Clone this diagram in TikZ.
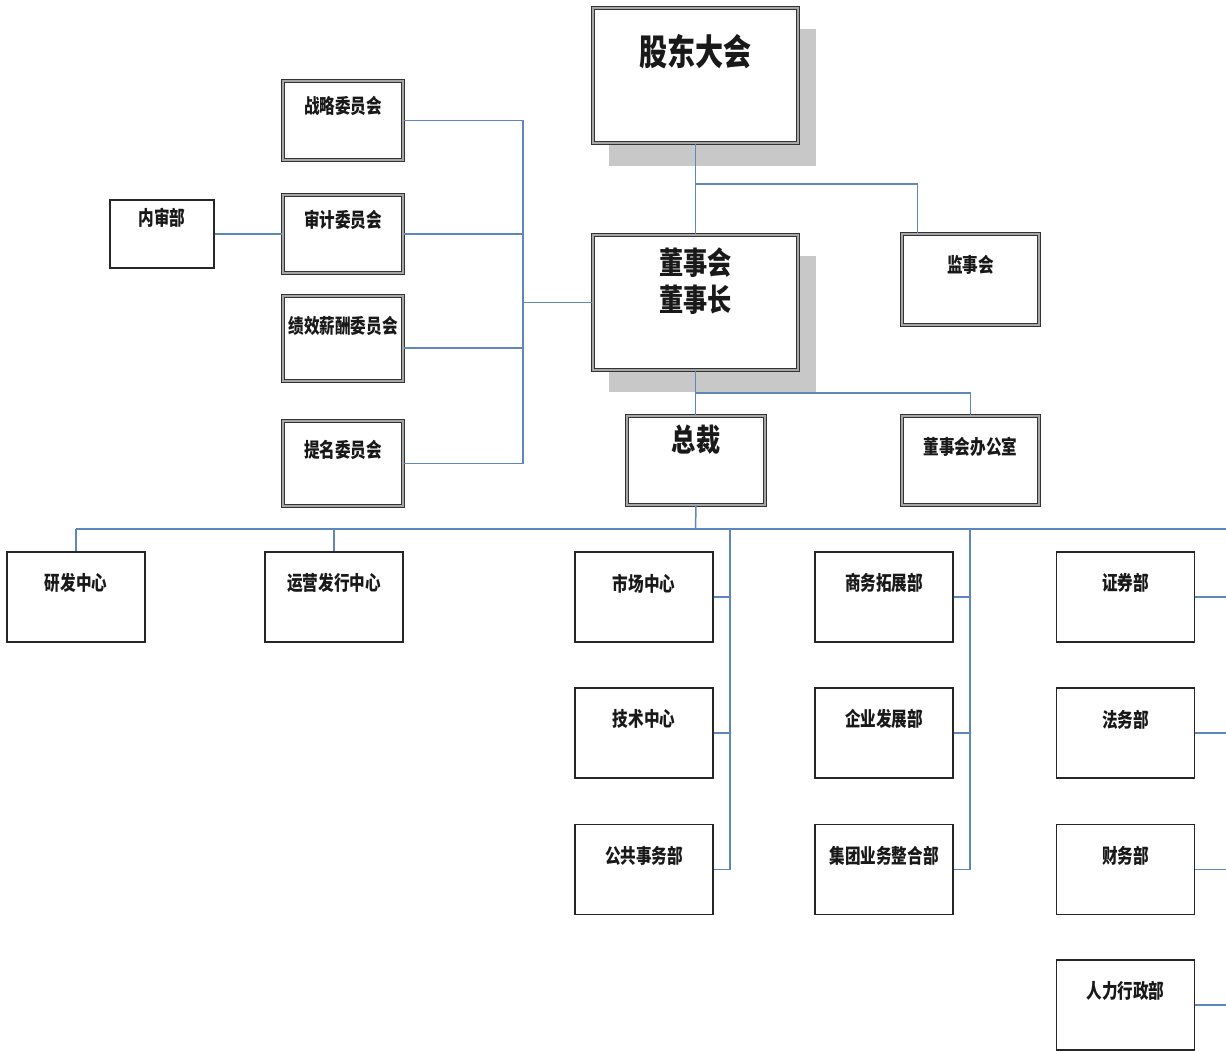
\documentclass[tikz,border=0pt]{standalone}
\usepackage{fontspec}
\newfontfamily\cjk[FakeStretch=0.78]{Noto Sans CJK SC}
\usetikzlibrary{calc}
\definecolor{conncol}{RGB}{95,135,190}
\definecolor{shadowcol}{RGB}{200,200,200}
\begin{document}
\begin{tikzpicture}[x=0.5pt,y=-0.5pt,
  dbox/.style={draw=black!80, line width=0.55pt, double=black!35, double distance=1.1pt, fill=white, inner sep=0pt},
  sbox/.style={draw=black!85, line width=0.7pt, fill=white, inner sep=0pt},
  shadow/.style={fill=shadowcol, draw=none},
  conn/.style={draw=conncol, line width=0.75pt},
  lbl/.style={font=\cjk\bfseries\fontsize{10}{12}\selectfont, inner sep=0pt, text=black!90},
  mlbl/.style={font=\cjk\bfseries\fontsize{15.5}{18.5}\selectfont, inner sep=0pt, align=center, text=black!90},
  blbl/.style={font=\cjk\bfseries\fontsize{18}{20}\selectfont, inner sep=0pt, text=black!90},
  bot/.style={sbox, minimum width=69pt, minimum height=45pt},
  com/.style={dbox, minimum width=60pt}
]
\useasboundingbox (0,0) rectangle (1226,1050);
\clip (0,0) rectangle (1226,1050);

% shadows
\fill[shadow] (609,29) rectangle (816,166);
\fill[shadow] (609,256) rectangle (816,392);

% top boxes
\node[dbox, minimum width=102.5pt, minimum height=67.5pt] (gd) at (695.5,75.5) {};
\node[blbl] at ($(gd.north)+(0,44)$) {股东大会};
\node[dbox, minimum width=102.5pt, minimum height=67.5pt] (dsh) at (695.5,302.5) {};
\node[mlbl] at ($(dsh.north)+(0,47)$) {董事会\\董事长};
\node[dbox, minimum width=69pt, minimum height=44.5pt] (zc) at (696,460.5) {};
\node[mlbl] at ($(zc.north)+(0,24)$) {总裁};
\node[dbox, minimum width=68.5pt, minimum height=44.5pt] (bgs) at (970.5,460.5) {};
\node[lbl] at ($(bgs.north)+(0,31)$) {董事会办公室};
\node[dbox, minimum width=68.5pt, minimum height=45.5pt] (jsh) at (970.5,279.5) {};
\node[lbl] at ($(jsh.north)+(0,31)$) {监事会};

% committees
\node[com, minimum height=39.5pt] (zl) at (343,120.5) {};
\node[lbl] at ($(zl.north)+(0,25)$) {战略委员会};
\node[com, minimum height=39pt] (sj) at (343,234) {};
\node[lbl] at ($(sj.north)+(0,25)$) {审计委员会};
\node[com, minimum height=42.5pt] (jx) at (343,338.5) {};
\node[lbl] at ($(jx.north)+(0,30)$) {绩效薪酬委员会};
\node[com, minimum height=42.5pt] (tm) at (343,463.5) {};
\node[lbl] at ($(tm.north)+(0,29)$) {提名委员会};
\node[sbox, minimum width=52pt, minimum height=34pt] (nsb) at (162,234) {};
\node[lbl] at ($(nsb.north)+(0,18)$) {内审部};

% bottom departments
\node[bot] (yf) at (76,597) {};
\node[lbl] at ($(yf.north)+(0,32)$) {研发中心};
\node[bot] (yy) at (334,597) {};
\node[lbl] at ($(yy.north)+(0,32)$) {运营发行中心};

\node[bot] (sc) at (644,597) {};
\node[lbl] at ($(sc.north)+(0,32)$) {市场中心};
\node[bot] (js) at (644,733) {};
\node[lbl] at ($(js.north)+(0,32)$) {技术中心};
\node[bot] (gg) at (644,869.5) {};
\node[lbl] at ($(gg.north)+(0,32)$) {公共事务部};

\node[bot] (sw) at (884,597) {};
\node[lbl] at ($(sw.north)+(0,32)$) {商务拓展部};
\node[bot] (qy) at (884,733) {};
\node[lbl] at ($(qy.north)+(0,32)$) {企业发展部};
\node[bot] (jt) at (884,869.5) {};
\node[lbl] at ($(jt.north)+(0,32)$) {集团业务整合部};

\node[bot] (zq) at (1125.5,597) {};
\node[lbl] at ($(zq.north)+(0,32)$) {证券部};
\node[bot] (fw) at (1125.5,733) {};
\node[lbl] at ($(fw.north)+(0,32)$) {法务部};
\node[bot] (cw) at (1125.5,869.5) {};
\node[lbl] at ($(cw.north)+(0,32)$) {财务部};
\node[bot] (rl) at (1125.5,1005) {};
\node[lbl] at ($(rl.north)+(0,32)$) {人力行政部};

% connectors: committees
\coordinate (cb) at (523,302.5);
\draw[conn] (zl.east) -| (cb) |- (tm.east);
\draw[conn] (sj.east) -- (sj.east -| cb);
\coordinate (jxp) at ($(jx.east)+(0,9.5)$);
\draw[conn] (jxp) -- (jxp -| cb);
\draw[conn] (cb) -- (dsh.west);
\draw[conn] (nsb.east) -- (sj.west);

% top chain
\draw[conn] (gd.south) -- (dsh.north);
\coordinate (b1) at (695.5,184);
\draw[conn] (b1) -| ($(jsh.north west)+(16,0)$);
\draw[conn] (dsh.south) -- (dsh.south |- zc.north);
\coordinate (b2) at (695.5,393);
\draw[conn] (b2) -| (bgs.north);

% main bus
\coordinate (mb) at (695.5,529);
\draw[conn] (zc.south) -- (mb);
\coordinate (busL) at (76,529);
\coordinate (busR) at (1240,529);
\draw[conn] (busL) -- (busR);
\draw[conn] (busL) -- (yf.north);
\draw[conn] (yy.north |- busL) -- (yy.north);

% middle bus
\coordinate (m1) at (730,529);
\draw[conn] (m1) |- (gg.east);
\draw[conn] (sc.east) -- (sc.east -| m1);
\draw[conn] (js.east) -- (js.east -| m1);

\coordinate (m2) at (970,529);
\draw[conn] (m2) |- (jt.east);
\draw[conn] (sw.east) -- (sw.east -| m2);
\draw[conn] (qy.east) -- (qy.east -| m2);

\coordinate (m3) at (1236,529);
\draw[conn] (m3) |- (rl.east);
\draw[conn] (zq.east) -- (zq.east -| m3);
\draw[conn] (fw.east) -- (fw.east -| m3);
\draw[conn] (cw.east) -- (cw.east -| m3);
\end{tikzpicture}
\end{document}
